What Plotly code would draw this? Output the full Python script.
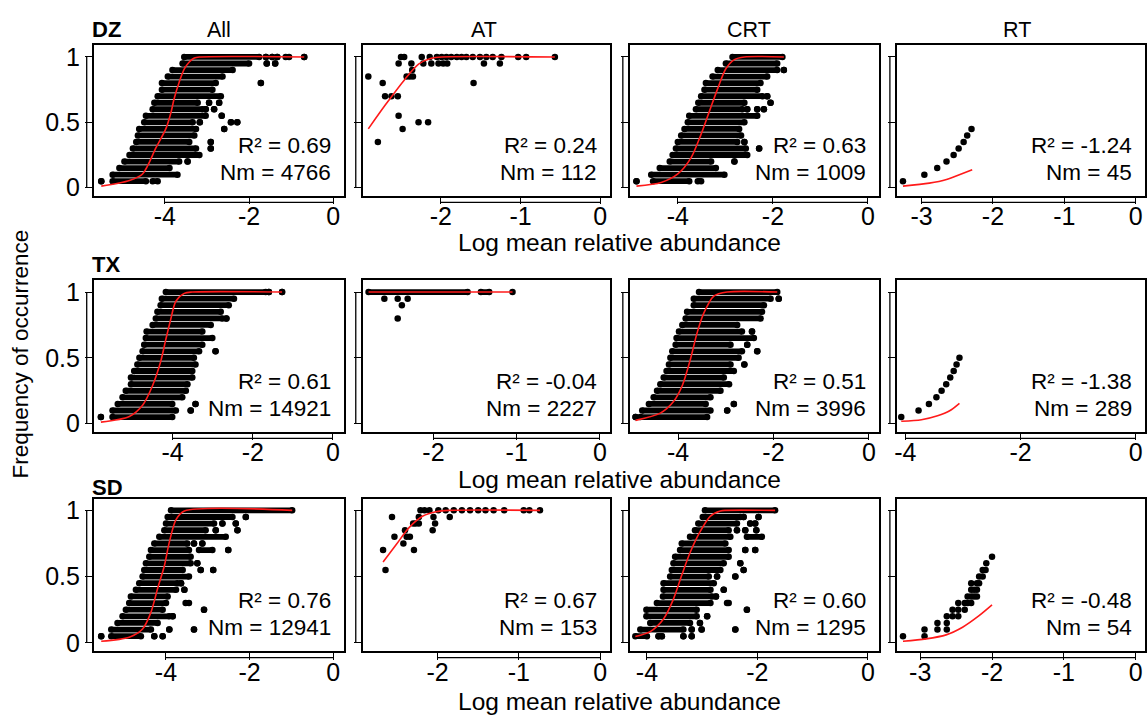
import plotly.graph_objects as go

W, H = 1147, 718
FONT = "Liberation Sans, Arial, Helvetica, sans-serif"

# ---------------- text / labels ----------------
COL_TITLES = ["All", "AT", "CRT", "RT"]
ROW_TITLES = ["DZ", "TX", "SD"]
R2_TEXT = [["0.69", "0.24", "0.63", "-1.24"],
           ["0.61", "-0.04", "0.51", "-1.38"],
           ["0.76", "0.67", "0.60", "-0.48"]]
NM_TEXT = [["4766", "112", "1009", "45"],
           ["14921", "2227", "3996", "289"],
           ["12941", "153", "1295", "54"]]
X_TICKS = [[[-4, -2, 0], [-2, -1, 0], [-4, -2, 0], [-3, -2, -1, 0]],
           [[-4, -2, 0], [-2, -1, 0], [-4, -2, 0], [-4, -2, 0]],
           [[-4, -2, 0], [-2, -1, 0], [-4, -2, 0], [-3, -2, -1, 0]]]
Y_TICKS = [0, 0.5, 1]
Y_TICK_TEXT = ["0", "0.5", "1"]

# frequency levels of the dense point rows (top to bottom)
FREQ = [1.0, 0.95, 0.9, 0.85, 0.8, 0.75, 0.7, 0.65, 0.6, 0.55,
        0.5, 0.45, 0.4, 0.35, 0.3, 0.25, 0.2, 0.15, 0.1, 0.05]

# ---------------- DZ ----------------
DZ_ALL_ROWS = [
    [(-3.54, -1.76), (-1.60, -1.60), (-1.45, -1.45), (-1.33, -1.33), (-1.13, -1.05), (-0.69, -0.69)],
    [(-3.58, -2.00), (-1.58, -1.58), (-1.38, -1.38)],
    [(-3.82, -2.39)],
    [(-3.93, -2.63)],
    [(-4.07, -2.79), (-1.72, -1.72)],
    [(-4.07, -2.87)],
    [(-4.17, -2.67)],
    [(-4.25, -3.22), (-2.95, -2.95), (-2.71, -2.71)],
    [(-4.29, -3.10), (-3.03, -3.03), (-2.83, -2.83)],
    [(-4.45, -3.03), (-2.65, -2.65)],
    [(-4.49, -3.34), (-3.17, -3.17), (-2.43, -2.43), (-2.28, -2.28)],
    [(-4.61, -3.26), (-2.59, -2.59)],
    [(-4.64, -3.30)],
    [(-4.68, -3.42), (-2.91, -2.91)],
    [(-4.76, -3.26), (-2.91, -2.91)],
    [(-4.84, -3.18)],
    [(-4.96, -3.66), (-3.46, -3.46)],
    [(-5.08, -3.89)],
    [(-5.24, -3.70)],
    [(-5.51, -5.51), (-5.24, -4.45), (-4.29, -4.17)],
]
DZ_ALL_CURVE_X = [-5.51, -4.84, -4.53, -4.21, -3.97, -3.85, -3.78, -3.66, -3.54, -3.42, -3.30, -3.18, -0.69]
DZ_ALL_CURVE_Y = [0.012, 0.055, 0.105, 0.306, 0.456, 0.581, 0.68, 0.807, 0.907, 0.962, 0.992, 1.0, 1.0]

DZ_AT_X = [-2.91, -2.79, -2.73, -2.70, -2.62, -2.54, -2.53, -2.48, -2.53, -2.50, -2.46, -2.37,
           -2.36, -2.43, -2.39, -2.35, -2.28, -2.16, -2.24, -2.22, -2.12, -2.14, -2.05, -1.99,
           -1.93, -1.87, -1.80, -1.74, -1.68, -1.60, -1.51, -1.43, -1.35, -1.24, -1.03, -0.93,
           -0.57, -2.03, -1.97, -1.92, -1.59, -1.46, -1.26]
DZ_AT_Y = [0.85, 0.35, 0.80, 0.70, 0.70, 0.70, 0.55, 0.45, 0.95, 1.0, 1.0, 0.95,
           0.90, 0.85, 0.85, 0.85, 0.50, 0.50, 1.0, 0.95, 0.95, 1.0, 1.0, 1.0,
           1.0, 1.0, 1.0, 1.0, 1.0, 1.0, 1.0, 1.0, 1.0, 1.0, 1.0, 1.0,
           1.0, 0.95, 0.95, 0.95, 0.80, 0.95, 0.95]
DZ_AT_CURVE_X = [-2.91, -2.70, -2.45, -2.28, -2.12, -1.99, -0.57]
DZ_AT_CURVE_Y = [0.45, 0.63, 0.83, 0.945, 0.99, 1.0, 1.0]

DZ_CRT_ROWS = [
    [(-2.85, -1.80)],
    [(-2.99, -1.91)],
    [(-3.16, -1.91), (-1.77, -1.77)],
    [(-3.27, -2.12)],
    [(-3.41, -2.26)],
    [(-3.44, -2.33)],
    [(-3.51, -2.22), (-2.12, -2.12)],
    [(-3.57, -2.60), (-2.05, -2.05)],
    [(-3.62, -2.64), (-2.54, -2.54), (-2.33, -2.33), (-2.19, -2.19)],
    [(-3.76, -2.33)],
    [(-3.79, -2.60)],
    [(-3.86, -2.71)],
    [(-3.93, -2.67)],
    [(-4.00, -2.75), (-2.60, -2.60)],
    [(-4.04, -2.57), (-2.29, -2.29)],
    [(-4.11, -2.54)],
    [(-4.17, -3.30), (-2.81, -2.81)],
    [(-4.38, -3.20)],
    [(-4.56, -3.02)],
    [(-4.87, -4.87), (-4.52, -3.76), (-3.58, -3.51)],
]
DZ_CRT_CURVE_X = [-4.87, -4.35, -4.00, -3.72, -3.51, -3.34, -3.16, -2.99, -2.81, -2.60, -1.77]
DZ_CRT_CURVE_Y = [0.012, 0.04, 0.105, 0.23, 0.41, 0.58, 0.76, 0.91, 0.98, 1.0, 1.0]

DZ_RT_X = [-3.26, -2.96, -2.78, -2.65, -2.55, -2.48, -2.41, -2.36, -2.30]
DZ_RT_Y = [0.05, 0.10, 0.15, 0.20, 0.25, 0.30, 0.35, 0.40, 0.45]
DZ_RT_CURVE_X = [-3.26, -2.89, -2.65, -2.47, -2.29]
DZ_RT_CURVE_Y = [0.012, 0.035, 0.063, 0.10, 0.138]

# ---------------- TX ----------------
TX_ALL_ROWS = [
    [(-4.17, -1.68), (-1.60, -1.60), (-1.27, -1.27)],
    [(-4.27, -2.47)],
    [(-4.30, -2.60)],
    [(-4.38, -2.80)],
    [(-4.42, -2.76), (-2.66, -2.66)],
    [(-4.50, -3.05)],
    [(-4.65, -3.26)],
    [(-4.67, -3.01)],
    [(-4.71, -3.26)],
    [(-4.75, -3.34), (-2.93, -2.93)],
    [(-4.83, -3.47)],
    [(-4.88, -3.43)],
    [(-4.96, -3.51)],
    [(-5.04, -3.51)],
    [(-5.04, -3.63)],
    [(-5.17, -3.67)],
    [(-5.25, -3.76)],
    [(-5.37, -4.01), (-3.43, -3.43)],
    [(-5.50, -3.92), (-3.55, -3.55)],
    [(-5.79, -5.79), (-5.50, -4.01)],
]
TX_ALL_CURVE_X = [-5.79, -5.08, -4.75, -4.50, -4.30, -4.17, -4.05, -3.92, -3.71, -3.51, -1.27]
TX_ALL_CURVE_Y = [0.012, 0.055, 0.14, 0.29, 0.47, 0.64, 0.79, 0.93, 0.99, 1.0, 1.0]

TX_AT_X = [-2.78, -1.59, -1.43, -1.33, -1.05, -2.59, -2.43, -2.31, -2.38, -2.43]
TX_AT_Y = [1.0, 1.0, 1.0, 1.0, 1.0, 0.95, 0.95, 0.95, 0.90, 0.80]
TX_AT_ROW_X = [(-2.78, -1.59), (-1.43, -1.33)]
TX_AT_CURVE_X = [-2.78, -1.05]
TX_AT_CURVE_Y = [1.0, 1.0]

TX_CRT_ROWS = [
    [(-3.56, -1.92)],
    [(-3.67, -2.06), (-1.89, -1.89)],
    [(-3.67, -2.20)],
    [(-3.81, -2.24)],
    [(-3.84, -2.27)],
    [(-3.91, -2.76)],
    [(-3.98, -2.66), (-2.45, -2.45)],
    [(-4.03, -2.41)],
    [(-4.05, -2.90), (-2.55, -2.55)],
    [(-4.12, -2.66), (-2.34, -2.34)],
    [(-4.16, -2.73)],
    [(-4.19, -2.90), (-2.61, -2.61)],
    [(-4.24, -2.83)],
    [(-4.30, -3.04)],
    [(-4.37, -2.93)],
    [(-4.44, -3.11)],
    [(-4.51, -3.32)],
    [(-4.61, -3.42), (-2.83, -2.83)],
    [(-4.75, -3.32), (-2.97, -2.97)],
    [(-4.89, -4.89), (-4.79, -3.39)],
]
TX_CRT_CURVE_X = [-4.89, -4.37, -4.09, -3.91, -3.74, -3.60, -3.46, -3.25, -2.97, -1.92]
TX_CRT_CURVE_Y = [0.025, 0.08, 0.17, 0.29, 0.49, 0.69, 0.84, 0.97, 1.0, 1.0]

TX_RT_X = [-4.07, -3.77, -3.59, -3.46, -3.37, -3.29, -3.22, -3.16, -3.11, -3.06]
TX_RT_Y = [0.05, 0.10, 0.15, 0.20, 0.25, 0.30, 0.35, 0.40, 0.45, 0.50]
TX_RT_CURVE_X = [-4.07, -3.72, -3.44, -3.23, -3.06]
TX_RT_CURVE_Y = [0.018, 0.03, 0.06, 0.098, 0.155]

# ---------------- SD ----------------
SD_ALL_ROWS = [
    [(-3.88, -0.98)],
    [(-3.96, -2.41), (-2.09, -2.09)],
    [(-4.00, -2.85), (-2.65, -2.65), (-2.33, -2.33)],
    [(-4.04, -3.05), (-2.81, -2.81), (-2.29, -2.29)],
    [(-4.16, -2.57)],
    [(-4.28, -3.49), (-3.33, -3.33), (-3.13, -3.13)],
    [(-4.36, -3.45), (-3.21, -2.89), (-2.51, -2.51)],
    [(-4.40, -3.41)],
    [(-4.48, -3.41), (-3.25, -3.25)],
    [(-4.52, -3.60), (-3.17, -3.17), (-2.87, -2.87)],
    [(-4.56, -3.45)],
    [(-4.64, -3.72), (-3.64, -3.64)],
    [(-4.72, -3.76), (-3.56, -3.56)],
    [(-4.84, -3.96)],
    [(-4.88, -4.00), (-3.53, -3.45)],
    [(-4.96, -4.08), (-3.09, -3.09)],
    [(-5.04, -3.92), (-3.84, -3.84)],
    [(-5.16, -4.20)],
    [(-5.31, -4.36), (-3.92, -3.92), (-3.33, -3.33)],
    [(-5.55, -5.55), (-5.31, -4.60), (-4.28, -4.28), (-4.08, -4.08)],
]
SD_ALL_CURVE_X = [-5.55, -4.88, -4.56, -4.36, -4.20, -4.04, -3.92, -3.76, -3.56, -0.98]
SD_ALL_CURVE_Y = [0.012, 0.043, 0.105, 0.23, 0.41, 0.58, 0.76, 0.93, 0.995, 1.0]

SD_AT_X = [-2.67, -2.64, -2.56, -2.53, -2.42, -2.40, -2.38, -2.34, -2.29, -2.30, -2.27, -2.23,
           -2.23, -2.21, -2.16, -2.10, -1.99, -1.90, -1.80, -1.70, -1.60, -1.50, -1.41, -1.31,
           -1.18, -0.94, -0.87, -0.74, -2.05, -1.85, -2.06, -2.03]
SD_AT_Y = [0.70, 0.55, 0.95, 0.80, 0.75, 0.85, 0.80, 0.80, 0.70, 0.90, 0.90, 0.90,
           0.95, 1.0, 1.0, 1.0, 1.0, 1.0, 1.0, 1.0, 1.0, 1.0, 1.0, 1.0,
           1.0, 1.0, 1.0, 1.0, 0.95, 0.95, 0.85, 0.90]
SD_AT_CURVE_X = [-2.67, -2.51, -2.35, -2.18, -2.02, -1.86, -0.74]
SD_AT_CURVE_Y = [0.61, 0.74, 0.87, 0.957, 0.99, 1.0, 1.0]

SD_CRT_ROWS = [
    [(-2.95, -1.68)],
    [(-2.99, -2.31), (-2.25, -2.25), (-1.98, -1.98)],
    [(-3.07, -2.37), (-2.13, -2.13), (-2.04, -2.04)],
    [(-3.13, -2.52), (-2.37, -2.37), (-2.22, -2.22), (-2.02, -2.02)],
    [(-3.22, -2.49), (-2.19, -1.92)],
    [(-3.37, -2.58)],
    [(-3.40, -2.52), (-2.22, -2.22), (-2.04, -2.04)],
    [(-3.49, -2.52)],
    [(-3.52, -2.61), (-2.31, -2.31)],
    [(-3.55, -2.67), (-2.25, -2.25)],
    [(-3.58, -2.88), (-2.73, -2.73), (-2.40, -2.40)],
    [(-3.70, -2.79)],
    [(-3.70, -2.85), (-2.61, -2.61)],
    [(-3.71, -2.82), (-2.75, -2.75)],
    [(-3.82, -2.85), (-2.55, -2.52)],
    [(-4.01, -3.10), (-2.19, -2.19)],
    [(-4.01, -3.10), (-2.91, -2.91)],
    [(-3.94, -3.22), (-3.04, -3.04)],
    [(-4.12, -3.34), (-3.19, -3.19), (-3.01, -3.01), (-2.40, -2.40)],
    [(-4.21, -4.00), (-3.79, -3.79), (-3.73, -3.73), (-3.34, -3.34), (-3.19, -3.19)],
]
SD_CRT_CURVE_X = [-4.21, -3.94, -3.70, -3.52, -3.37, -3.22, -3.03, -2.85, -2.67, -2.58, -1.68]
SD_CRT_CURVE_Y = [0.048, 0.085, 0.18, 0.33, 0.51, 0.68, 0.845, 0.957, 0.995, 1.0, 1.0]

SD_RT_X = [-3.24, -2.94, -2.94, -2.76, -2.76, -2.63, -2.63, -2.63, -2.55, -2.55, -2.47, -2.47,
           -2.47, -2.38, -2.38, -2.34, -2.34, -2.29, -2.29, -2.29, -2.29, -2.25, -2.25, -2.21,
           -2.21, -2.21, -2.18, -2.18, -2.13, -2.13, -2.09, -2.08, -2.00]
SD_RT_Y = [0.05, 0.10, 0.05, 0.10, 0.15, 0.10, 0.15, 0.20, 0.20, 0.25, 0.20, 0.25,
           0.30, 0.25, 0.30, 0.30, 0.35, 0.30, 0.35, 0.40, 0.45, 0.35, 0.40, 0.35,
           0.40, 0.45, 0.50, 0.45, 0.50, 0.55, 0.55, 0.60, 0.65]
SD_RT_CURVE_X = [-3.24, -2.92, -2.64, -2.41, -2.18, -2.00]
SD_RT_CURVE_Y = [0.012, 0.03, 0.06, 0.118, 0.205, 0.286]

# ---------------- layout geometry (pixels) ----------------
COL_PX = [(91, 342), (361, 609), (629, 879), (897, 1146)]
COL_TITLE_X = [217, 483, 749, 1018]
ROW_PX = [(43, 195), (281, 434), (502, 656)]
X_RANGES = [[(-5.69, 0.25), (-2.98, 0.12), (-5.01, 0.23), (-3.345, 0.13)],
            [(-5.97, 0.27), (-2.85, 0.12), (-5.01, 0.21), (-4.146, 0.16)],
            [(-5.73, 0.255), (-2.92, 0.12), (-4.31, 0.20), (-3.325, 0.13)]]
Y_RANGE = (-0.06, 1.088)
TICKLEN = 7
TICK_FS = 25
NOTE_FS = 22.5

PANELS = [
    [("rows", DZ_ALL_ROWS, DZ_ALL_CURVE_X, DZ_ALL_CURVE_Y),
     ("pts", (DZ_AT_X, DZ_AT_Y), DZ_AT_CURVE_X, DZ_AT_CURVE_Y),
     ("rows", DZ_CRT_ROWS, DZ_CRT_CURVE_X, DZ_CRT_CURVE_Y),
     ("pts", (DZ_RT_X, DZ_RT_Y), DZ_RT_CURVE_X, DZ_RT_CURVE_Y)],
    [("rows", TX_ALL_ROWS, TX_ALL_CURVE_X, TX_ALL_CURVE_Y),
     ("pts", (TX_AT_X, TX_AT_Y), TX_AT_CURVE_X, TX_AT_CURVE_Y),
     ("rows", TX_CRT_ROWS, TX_CRT_CURVE_X, TX_CRT_CURVE_Y),
     ("pts", (TX_RT_X, TX_RT_Y), TX_RT_CURVE_X, TX_RT_CURVE_Y)],
    [("rows", SD_ALL_ROWS, SD_ALL_CURVE_X, SD_ALL_CURVE_Y),
     ("pts", (SD_AT_X, SD_AT_Y), SD_AT_CURVE_X, SD_AT_CURVE_Y),
     ("rows", SD_CRT_ROWS, SD_CRT_CURVE_X, SD_CRT_CURVE_Y),
     ("pts", (SD_RT_X, SD_RT_Y), SD_RT_CURVE_X, SD_RT_CURVE_Y)],
]

DOT = 6.5
fig = go.Figure()
layout = dict(width=W, height=H, margin=dict(l=0, r=0, t=0, b=0),
              paper_bgcolor="white", plot_bgcolor="white", showlegend=False,
              font=dict(family=FONT, color="black"))
shapes, annotations = [], []


def px_x(p):
    return p / W


def px_y(p):
    return 1 - p / H


for r in range(3):
    for c in range(4):
        k = r * 4 + c + 1
        xa = "x" if k == 1 else f"x{k}"
        ya = "y" if k == 1 else f"y{k}"
        kind, data, cx, cy = PANELS[r][c]
        if kind == "rows":
            xs, ys = [], []
            for f, segs in zip(FREQ, data):
                for a, b in segs:
                    xs += [a, b, None]
                    ys += [f, f, None]
            fig.add_trace(go.Scatter(x=xs, y=ys, mode="lines+markers", xaxis=xa, yaxis=ya,
                                     line=dict(color="black", width=DOT - 0.7),
                                     marker=dict(color="black", size=DOT),
                                     hoverinfo="skip"))
        else:
            px_, py_ = data
            fig.add_trace(go.Scatter(x=px_, y=py_, mode="markers", xaxis=xa, yaxis=ya,
                                     marker=dict(color="black", size=DOT), hoverinfo="skip"))
            if r == 1 and c == 1:
                xs, ys = [], []
                for a, b in TX_AT_ROW_X:
                    xs += [a, b, None]
                    ys += [1.0, 1.0, None]
                fig.add_trace(go.Scatter(x=xs, y=ys, mode="lines", xaxis=xa, yaxis=ya,
                                         line=dict(color="black", width=DOT - 0.7),
                                         hoverinfo="skip"))
        fig.add_trace(go.Scatter(x=cx, y=cy, mode="lines", xaxis=xa, yaxis=ya,
                                 line=dict(color="#ff1a1a", width=1.6, shape="spline", smoothing=0.8),
                                 hoverinfo="skip"))

        x0, x1 = COL_PX[c]
        y0, y1 = ROW_PX[r]
        ticks = X_TICKS[r][c]
        layout["xaxis" if k == 1 else f"xaxis{k}"] = dict(
            domain=[px_x(x0), px_x(x1)], range=list(X_RANGES[r][c]), anchor=ya,
            tickvals=ticks, ticktext=[str(t) for t in ticks],
            ticks="outside", ticklen=TICKLEN, tickwidth=1.3, tickcolor="black",
            showline=True, mirror=True, linecolor="black", linewidth=1.5,
            showgrid=False, zeroline=False, ticklabelstandoff=-9,
            tickfont=dict(size=TICK_FS, family=FONT, color="black"),
            fixedrange=True)
        layout["yaxis" if k == 1 else f"yaxis{k}"] = dict(
            domain=[px_y(y1), px_y(y0)], range=list(Y_RANGE), anchor=xa,
            tickvals=Y_TICKS, ticktext=Y_TICK_TEXT, showticklabels=(c == 0),
            ticks="outside", ticklen=TICKLEN, tickwidth=1.3, tickcolor="black",
            showline=True, mirror=True, linecolor="black", linewidth=1.5,
            showgrid=False, zeroline=False,
            tickfont=dict(size=TICK_FS, family=FONT, color="black"),
            fixedrange=True)
        # offset axis lines spanning first to last tick
        shapes.append(dict(type="line", xref=xa, yref="paper", x0=ticks[0], x1=ticks[-1],
                           y0=px_y(y1 + TICKLEN), y1=px_y(y1 + TICKLEN),
                           line=dict(color="black", width=1.3)))
        shapes.append(dict(type="line", xref="paper", yref=ya, x0=px_x(x0 - TICKLEN),
                           x1=px_x(x0 - TICKLEN), y0=Y_TICKS[0], y1=Y_TICKS[-1],
                           line=dict(color="black", width=1.3)))
        # R^2 and Nm
        annotations.append(dict(text=f"R² = {R2_TEXT[r][c]}", xref=f"{xa} domain",
                                yref=f"{ya} domain", x=1, y=0, xanchor="right", yanchor="middle",
                                xshift=-11, yshift=50, showarrow=False,
                                font=dict(size=NOTE_FS, family=FONT, color="black")))
        annotations.append(dict(text=f"Nm = {NM_TEXT[r][c]}", xref=f"{xa} domain",
                                yref=f"{ya} domain", x=1, y=0, xanchor="right", yanchor="middle",
                                xshift=-11, yshift=23, showarrow=False,
                                font=dict(size=NOTE_FS, family=FONT, color="black")))

# column titles
for c, t in enumerate(COL_TITLES):
    annotations.append(dict(text=t, xref="paper", yref="paper",
                            x=px_x(COL_TITLE_X[c]), y=px_y(27),
                            xanchor="center", yanchor="middle", showarrow=False,
                            font=dict(size=21.5, family=FONT, color="black")))
# row titles
for r, t in enumerate(ROW_TITLES):
    annotations.append(dict(text=f"<b>{t}</b>", xref="paper", yref="paper",
                            x=px_x(87), y=px_y([27, 265, 491][r]),
                            xanchor="left", yanchor="middle", showarrow=False,
                            font=dict(size=22, family=FONT, color="black")))
# axis titles
for yy in [243, 483, 707]:
    annotations.append(dict(text="Log mean relative abundance", xref="paper", yref="paper",
                            x=px_x(619), y=px_y(yy), xanchor="center", yanchor="middle",
                            showarrow=False, font=dict(size=24.5, family=FONT, color="black")))
annotations.append(dict(text="Frequency of occurrence", xref="paper", yref="paper",
                        x=px_x(18), y=px_y(355), xanchor="center", yanchor="middle",
                        textangle=-90, showarrow=False,
                        font=dict(size=22.5, family=FONT, color="black")))

layout["shapes"] = shapes
layout["annotations"] = annotations
fig.update_layout(**layout)
fig.write_html("out.html", config={"displayModeBar": False},
               post_script="document.body.style.margin='0px';"
                           "document.documentElement.style.overflow='hidden';")
